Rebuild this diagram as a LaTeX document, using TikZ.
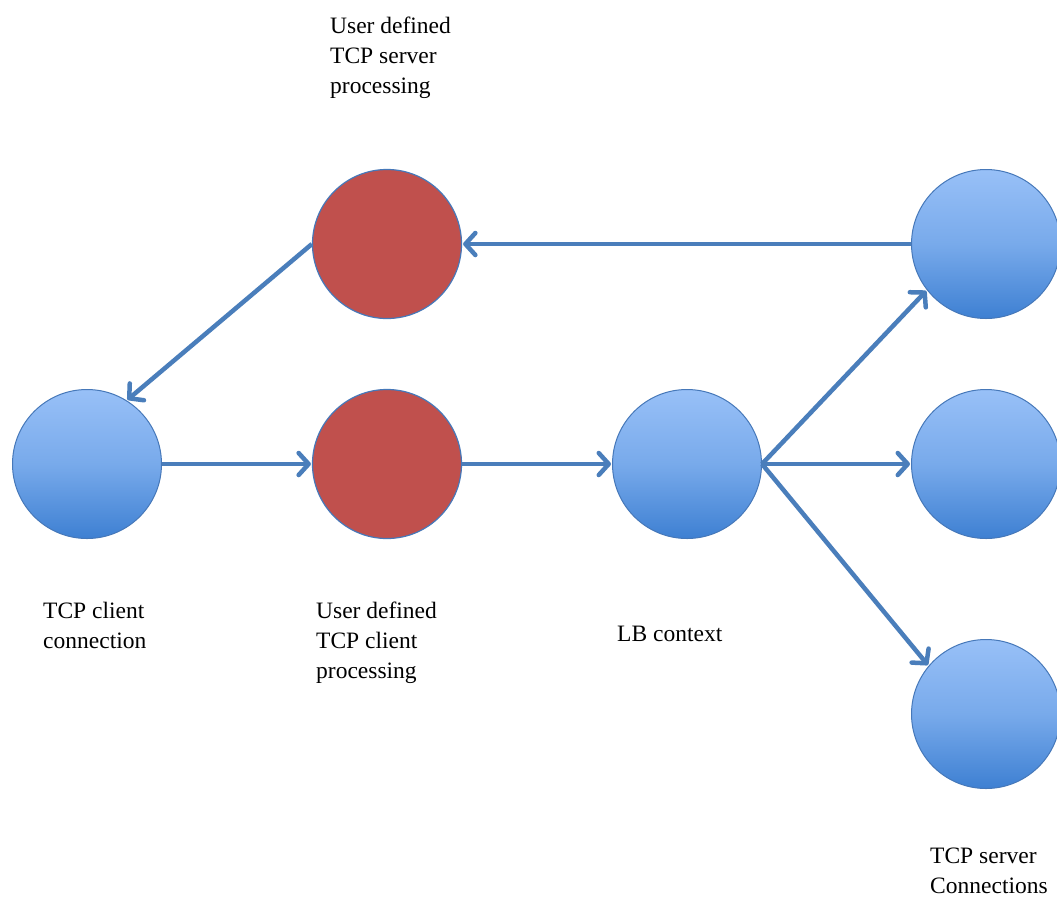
\documentclass[tikz,border=0pt]{standalone}
\usepackage{fontspec}
\setmainfont{Liberation Serif}
\usetikzlibrary{arrows.meta}
\definecolor{blueTop}{RGB}{152,192,247}
\definecolor{blueMid}{RGB}{120,170,235}
\definecolor{blueBot}{RGB}{62,128,210}
\definecolor{rimBlue}{RGB}{70,120,185}
\definecolor{redFill}{RGB}{192,80,77}
\definecolor{lineBlue}{RGB}{74,126,187}
\tikzset{
  bluenode/.style={circle, draw=rimBlue, line width=1pt, minimum size=149pt, inner sep=0pt, top color=blueTop, bottom color=blueBot, middle color=blueMid},
  rednode/.style={circle, draw=rimBlue, line width=1.2pt, minimum size=149pt, inner sep=0pt, fill=redFill},
  conn/.style={draw=lineBlue, line width=4.5pt, -{Straight Barb[length=10pt, width=22pt, round, line width=0pt 1]}, shorten >=1pt},
  lbl/.style={font=\fontsize{23.5}{30}\selectfont, align=left, inner sep=0pt, anchor=north west, text=black}
}
\begin{document}
\begin{tikzpicture}[x=1pt, y=-1pt]
\useasboundingbox (0,0) rectangle (1057,898);
\clip (0,0) rectangle (1057,898);
\fill[white] (0,0) rectangle (1057,898);
\node[bluenode] (client) at (87,464) {};
\node[rednode] (srvproc) at (387,244) {};
\node[rednode] (cliproc) at (387,464) {};
\node[bluenode] (lb) at (687,464) {};
\node[bluenode] (s1) at (986,244) {};
\node[bluenode] (s2) at (986,464) {};
\node[bluenode] (s3) at (986,714) {};
\draw[conn] (s1.west) -- (srvproc.east);
\draw[conn] (srvproc.west) -- (client.58);
\draw[conn] (client.east) -- (cliproc.west);
\draw[conn] (cliproc.east) -- (lb.west);
\draw[conn] (lb.east) -- (s1.218);
\draw[conn] (lb.east) -- (s2.west);
\draw[conn] (lb.east) -- (s3.140);
\node[lbl] (t1) at (330,17) {User defined\\TCP server\\processing};
\node[lbl] (t2) at (43,602) {TCP client\\connection};
\node[lbl] (t3) at (316,602) {User defined\\TCP client\\processing};
\node[lbl] (t4) at (617,626) {LB context};
\node[lbl] (t5) at (930,848) {TCP server\\Connections};
\end{tikzpicture}
\end{document}
